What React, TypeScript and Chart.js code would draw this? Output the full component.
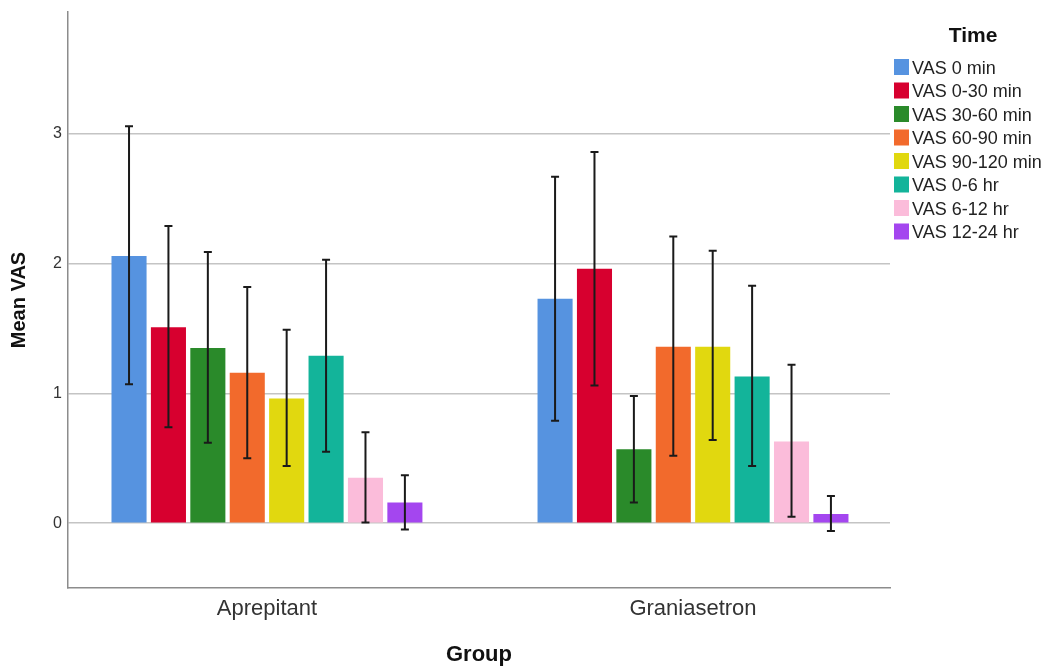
import React, { useEffect, useRef } from 'react';
import { Chart, registerables } from 'chart.js';

Chart.register(...registerables);

const categories = ['Aprepitant', 'Graniasetron'];
const seriesLabels = [
  'VAS 0 min',
  'VAS 0-30 min',
  'VAS 30-60 min',
  'VAS 60-90 min',
  'VAS 90-120 min',
  'VAS 0-6 hr',
  'VAS 6-12 hr',
  'VAS 12-24 hr',
];
const seriesColors = ['#5693e0', '#d7002f', '#2a8a2a', '#f26a2c', '#e1d80f', '#13b49a', '#fbbcda', '#a446ef'];

const aprepitantMean = [2.06, 1.51, 1.35, 1.16, 0.96, 1.29, 0.35, 0.16];
const aprepitantLow = [1.07, 0.74, 0.62, 0.5, 0.44, 0.55, 0.005, -0.05];
const aprepitantHigh = [3.06, 2.29, 2.09, 1.82, 1.49, 2.03, 0.7, 0.37];
const graniasetronMean = [1.73, 1.96, 0.57, 1.36, 1.36, 1.13, 0.63, 0.07];
const graniasetronLow = [0.79, 1.06, 0.16, 0.52, 0.64, 0.44, 0.05, -0.06];
const graniasetronHigh = [2.67, 2.86, 0.98, 2.21, 2.1, 1.83, 1.22, 0.21];
const yTicks = [0, 1, 2, 3];

const FONT = "'Liberation Sans', Arial, sans-serif";

const means = [aprepitantMean, graniasetronMean];
const lows = [aprepitantLow, graniasetronLow];
const highs = [aprepitantHigh, graniasetronHigh];

const errorBarPlugin = {
  id: 'errorBars',
  afterDatasetsDraw(chart: any) {
    const { ctx } = chart;
    const yScale = chart.scales.y;
    ctx.save();
    ctx.strokeStyle = '#1a1a1a';
    ctx.lineWidth = 2;
    chart.data.datasets.forEach((_ds: any, si: number) => {
      const meta = chart.getDatasetMeta(si);
      meta.data.forEach((bar: any, gi: number) => {
        const x = bar.x;
        const yl = yScale.getPixelForValue(lows[gi][si]);
        const yh = yScale.getPixelForValue(highs[gi][si]);
        const cap = 4;
        ctx.beginPath();
        ctx.moveTo(x, yl);
        ctx.lineTo(x, yh);
        ctx.moveTo(x - cap, yl);
        ctx.lineTo(x + cap, yl);
        ctx.moveTo(x - cap, yh);
        ctx.lineTo(x + cap, yh);
        ctx.stroke();
      });
    });
    ctx.restore();
  },
};

const legendPlugin = {
  id: 'customLegend',
  afterDraw(chart: any) {
    const { ctx } = chart;
    const area = chart.chartArea;
    const left = area.right + 4;
    ctx.save();
    ctx.fillStyle = '#111';
    ctx.font = `bold 21px ${FONT}`;
    ctx.textAlign = 'center';
    ctx.textBaseline = 'middle';
    ctx.fillText('Time', 973, 36);
    ctx.font = `18px ${FONT}`;
    ctx.textAlign = 'left';
    chart.data.datasets.forEach((ds: any, i: number) => {
      const cy = 67 + i * 23.5;
      ctx.fillStyle = ds.backgroundColor;
      ctx.fillRect(left, cy - 8, 15, 16);
      ctx.fillStyle = '#222';
      ctx.fillText(ds.label, left + 18, cy + 2);
    });
    ctx.restore();
  },
};

export default function App() {
  const ref = useRef<HTMLCanvasElement | null>(null);

  useEffect(() => {
    if (!ref.current) return;
    Chart.defaults.font.family = FONT;
    const chart = new Chart(ref.current, {
      type: 'bar',
      data: {
        datasets: seriesLabels.map((label, si) => ({
          label,
          data: categories.map((_c, gi) => ({ x: gi, y: means[gi][si] })),
          backgroundColor: seriesColors[si],
          borderWidth: 0,
          categoryPercentage: 0.74,
          barPercentage: 0.89,
        })),
      },
      options: {
        responsive: false,
        animation: false,
        layout: { padding: { left: 0, top: 12, right: 162, bottom: 0 } },
        plugins: { legend: { display: false }, tooltip: { enabled: false } },
        scales: {
          x: {
            type: 'linear',
            offset: false,
            min: -0.467,
            max: 1.4624,
            afterBuildTicks: (s: any) => {
              s.ticks = categories.map((_c, i) => ({ value: i }));
            },
            afterFit: (s: any) => {
              s.height = 78;
              s.paddingLeft = 0;
              s.paddingRight = 0;
            },
            ticks: {
              callback: (v: any) => categories[v] ?? '',
              font: { size: 22, family: FONT },
              color: '#333',
              padding: 8,
              autoSkip: false,
              maxRotation: 0,
            },
            grid: { display: false, drawTicks: false, offset: false },
            border: { display: true, color: '#8c8c8c', width: 1.5 },
            title: {
              display: true,
              text: 'Group',
              font: { size: 22, weight: 'bold', family: FONT, lineHeight: 1 },
              color: '#111',
              padding: { top: 0, bottom: 0 },
            },
          },
          y: {
            min: -0.5,
            max: 3.94,
            afterBuildTicks: (s: any) => {
              s.ticks = yTicks.map((v) => ({ value: v }));
            },
            afterFit: (s: any) => {
              s.width = 68;
              s.paddingTop = 0;
              s.paddingBottom = 0;
            },
            ticks: {
              callback: (v: any) => String(v),
              font: { size: 16, family: FONT },
              color: '#333',
              padding: 6,
            },
            grid: { color: '#c4c4c4', lineWidth: 1.5, drawTicks: false },
            border: { display: true, color: '#8c8c8c', width: 1.5 },
            title: {
              display: true,
              text: 'Mean VAS',
              font: { size: 20, weight: 'bold', family: FONT, lineHeight: 1 },
              color: '#111',
              padding: { top: 9, bottom: 0 },
            },
          },
        },
      },
      plugins: [errorBarPlugin, legendPlugin],
    } as any);
    return () => chart.destroy();
  }, []);

  return (
    <div style={{ position: 'fixed', left: 0, top: 0, width: 1052, height: 666, background: '#fff' }}>
      <canvas ref={ref} width={1052} height={666} style={{ display: 'block' }} />
    </div>
  );
}
